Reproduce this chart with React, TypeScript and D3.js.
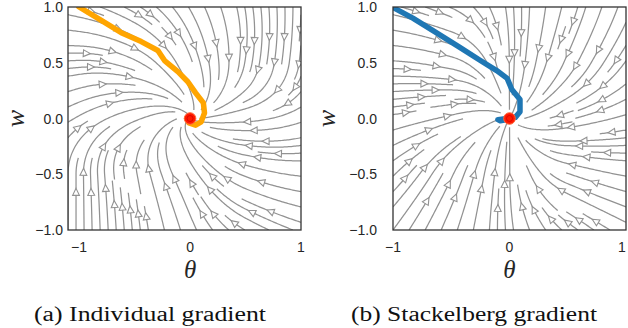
import React, { useMemo } from "react";
import * as d3 from "d3";

// ---------- data ----------
// Direction of the vector field (degrees, counter-clockwise from +theta axis)
// rows: w = 1, 0.5, 0, -0.5, -1 ; columns: theta = -1, -0.5, 0, 0.5, 1 (null = equilibrium)
const fieldNodes = [-1, -0.5, 0, 0.5, 1];
const individualAngles: (number | null)[][] = [
  [-15, -30, -60, -80, -92],
  [3, -25, -70, -100, -97],
  [30, 20, null, 185, 200],
  [90, 100, 120, 160, 175],
  [90, 95, 110, 150, 160],
];
const stackelbergAngles: (number | null)[][] = [
  [-15, -25, -85, -105, -110],
  [-3, -15, -90, -115, -125],
  [10, 15, null, 195, 195],
  [45, 65, 90, 160, 170],
  [55, 70, 95, 140, 150],
];

// Learning trajectories (theta, w)
const individualTheta = [-1.0, -0.8, -0.62, -0.44, -0.29, -0.23, -0.11, -0.02, 0.05, 0.12, 0.13, 0.1, 0.05, -0.01, -0.03, 0.0];
const individualW = [1.0, 0.88, 0.77, 0.69, 0.61, 0.52, 0.42, 0.33, 0.23, 0.14, 0.05, -0.03, -0.06, -0.04, 0.0, 0.0];
const stackelbergTheta = [-0.99, -0.83, -0.66, -0.43, -0.25, -0.11, -0.02, 0.02, 0.09, 0.09, 0.05, -0.02, -0.1, -0.08, 0.02];
const stackelbergW = [0.99, 0.9, 0.79, 0.64, 0.52, 0.43, 0.36, 0.26, 0.17, 0.06, 0.01, 0.0, -0.01, -0.02, 0.0];
const equilibrium = [0, 0];

const yTicks = [1.0, 0.5, 0.0, -0.5, -1.0];
const xTicks = [-1, 0, 1];
const captions = ["(a)  Individual gradient", "(b)  Stackelberg gradient"];
const trajColors = ["#FFA500", "#1f77b4"];

// ---------- streamplot (matplotlib-like) ----------
type Dir = (ax: number, ay: number) => [number, number] | null;

function makeDir(angles: (number | null)[][], xd: number[], yd: number[]): Dir {
  const vec = angles.map((r) =>
    r.map((a) => (a === null ? [0, 0] : [Math.cos((a * Math.PI) / 180), Math.sin((a * Math.PI) / 180)]))
  );
  const n = fieldNodes.length - 1;
  const toIdx = d3.scaleLinear().domain([fieldNodes[0], fieldNodes[n]]).range([0, n]).clamp(true);
  const toRow = d3.scaleLinear().domain([1, -1]).range([0, n]).clamp(true);
  const sx = xd[1] - xd[0];
  const sy = yd[1] - yd[0];
  return (ax, ay) => {
    const x = xd[0] + ax * sx;
    const y = yd[0] + ay * sy;
    const cx = toIdx(x);
    const cy = toRow(y);
    const i0 = Math.min(n - 1, Math.floor(cx));
    const j0 = Math.min(n - 1, Math.floor(cy));
    const fx = cx - i0;
    const fy = cy - j0;
    const a = vec[j0][i0], b = vec[j0][i0 + 1], c = vec[j0 + 1][i0], d = vec[j0 + 1][i0 + 1];
    let u = (1 - fy) * ((1 - fx) * a[0] + fx * b[0]) + fy * ((1 - fx) * c[0] + fx * d[0]);
    let v = (1 - fy) * ((1 - fx) * a[1] + fx * b[1]) + fy * ((1 - fx) * c[1] + fx * d[1]);
    u /= sx;
    v /= sy;
    const m = Math.hypot(u, v);
    if (m < 1e-9) return null;
    return [u / m, v / m];
  };
}

function genStarts(nx: number, ny: number) {
  const out: [number, number][] = [];
  let xfirst = 0, yfirst = 1, xlast = nx - 1, ylast = ny - 1;
  let x = 0, y = 0;
  let dir = "right";
  for (let i = 0; i < nx * ny; i++) {
    out.push([x, y]);
    if (dir === "right") {
      x += 1;
      if (x >= xlast) { xlast -= 1; dir = "up"; }
    } else if (dir === "up") {
      y += 1;
      if (y >= ylast) { ylast -= 1; dir = "left"; }
    } else if (dir === "left") {
      x -= 1;
      if (x <= xfirst) { xfirst += 1; dir = "down"; }
    } else {
      y -= 1;
      if (y <= yfirst) { yfirst += 1; dir = "right"; }
    }
  }
  return out;
}

function streamplot(dirFn: Dir, density = 1) {
  const N = Math.round(30 * density);
  const mask: number[][] = Array.from({ length: N }, () => new Array(N).fill(0));
  const ds = 0.006;
  const maxlength = 4.0;
  const minlength = 0.1;
  const lines: [number, number][][] = [];

  const integrate = (x0: number, y0: number, sign: number, cells: [number, number][]) => {
    let x = x0, y = y0, s = 0;
    let cx = Math.round(x0 * (N - 1)), cy = Math.round(y0 * (N - 1));
    const pts: [number, number][] = [[x, y]];
    let sameCell = 0;
    let prev: [number, number] | null = null;
    while (s < maxlength) {
      const k1 = dirFn(x, y);
      if (!k1) break;
      const xm = x + sign * k1[0] * ds * 0.5, ym = y + sign * k1[1] * ds * 0.5;
      const k2 = xm >= 0 && xm <= 1 && ym >= 0 && ym <= 1 ? dirFn(xm, ym) : k1;
      if (!k2) break;
      if (prev && prev[0] * k2[0] + prev[1] * k2[1] < 0.2) break;
      prev = k2;
      let nx = x + sign * k2[0] * ds, ny = y + sign * k2[1] * ds;
      let out = false;
      if (nx < 0 || nx > 1 || ny < 0 || ny > 1) {
        let t = 1;
        const dx = nx - x, dy = ny - y;
        if (nx < 0) t = Math.min(t, -x / dx);
        if (nx > 1) t = Math.min(t, (1 - x) / dx);
        if (ny < 0) t = Math.min(t, -y / dy);
        if (ny > 1) t = Math.min(t, (1 - y) / dy);
        nx = x + dx * t;
        ny = y + dy * t;
        out = true;
      }
      const ncx = Math.round(nx * (N - 1)), ncy = Math.round(ny * (N - 1));
      if (ncx !== cx || ncy !== cy) {
        if (mask[ncy][ncx]) break;
        mask[ncy][ncx] = 1;
        cells.push([ncx, ncy]);
        cx = ncx;
        cy = ncy;
        sameCell = 0;
      } else {
        sameCell++;
        if (sameCell > 40) break;
      }
      s += Math.hypot(nx - x, ny - y);
      x = nx;
      y = ny;
      pts.push([x, y]);
      if (out) break;
    }
    return { pts, s };
  };

  for (const [xm, ym] of genStarts(N, N)) {
    if (mask[ym][xm]) continue;
    const x0 = xm / (N - 1), y0 = ym / (N - 1);
    const cells: [number, number][] = [[xm, ym]];
    mask[ym][xm] = 1;
    const b = integrate(x0, y0, -1, cells);
    const f = integrate(x0, y0, 1, cells);
    const total = b.s + f.s;
    if (total > minlength) {
      lines.push([...b.pts.slice().reverse(), ...f.pts.slice(1)]);
    } else {
      for (const [a, c] of cells) mask[c][a] = 0;
    }
  }
  return lines;
}

// ---------- layout ----------
const panelsCfg = [
  { x0: 68, x1: 301, xd: [-1.1, 1.0], angles: individualAngles, tTheta: individualTheta, tW: individualW, tickGap: 5, wLabelX: 17, caption: captions[0], capX: 34, capW: 232 },
  { x0: 393, x1: 626, xd: [-1.0, 1.0], angles: stackelbergAngles, tTheta: stackelbergTheta, tW: stackelbergW, tickGap: 16, wLabelX: 328, caption: captions[1], capX: 351, capW: 246 },
];
const yTop = 7, yBot = 230;

export default function App() {
  const panels = useMemo(
    () =>
      panelsCfg.map((p, i) => {
        const xs = d3.scaleLinear().domain(p.xd).range([p.x0, p.x1]);
        const ys = d3.scaleLinear().domain([-1, 1]).range([yBot, yTop]);
        const dirFn = makeDir(p.angles, p.xd, [-1, 1]);
        const raw = streamplot(dirFn, 1);
        const ax2data = (pt: [number, number]): [number, number] => [
          p.xd[0] + pt[0] * (p.xd[1] - p.xd[0]),
          -1 + pt[1] * 2,
        ];
        const lines = raw.map((l) => l.map(ax2data));
        const arrows = lines.map((l) => {
          const cum: number[] = [0];
          for (let k = 1; k < l.length; k++) {
            cum.push(cum[k - 1] + Math.hypot(xs(l[k][0]) - xs(l[k - 1][0]), ys(l[k][1]) - ys(l[k - 1][1])));
          }
          const half = cum[cum.length - 1] / 2;
          let n = d3.bisectLeft(cum, half);
          n = Math.min(Math.max(n, 0), l.length - 2);
          const px = xs(l[n][0]), py = ys(l[n][1]);
          const qx = xs(l[n + 1][0]), qy = ys(l[n + 1][1]);
          const ang = Math.atan2(qy - py, qx - px);
          return { x: (px + qx) / 2, y: (py + qy) / 2, ang };
        });
        return { p, xs, ys, lines, arrows, i };
      }),
    []
  );

  const lineGen = (xs: any, ys: any) =>
    d3
      .line<[number, number]>()
      .x((d) => xs(d[0]))
      .y((d) => ys(d[1]));

  return (
    <svg
      width={628}
      height={328}
      style={{ position: "absolute", left: 0, top: 0, background: "#fff" }}
      fontFamily="'Liberation Sans', Arial, sans-serif"
    >
      <defs>
        {panels.map(({ p, i }) => (
          <clipPath id={`clip${i}`} key={i}>
            <rect x={p.x0} y={yTop} width={p.x1 - p.x0} height={yBot - yTop} />
          </clipPath>
        ))}
      </defs>
      {panels.map(({ p, xs, ys, lines, arrows, i }) => {
        const lg = lineGen(xs, ys);
        const traj: [number, number][] = p.tTheta.map((t, k) => [t, p.tW[k]]);
        return (
          <g key={i}>
            <g clipPath={`url(#clip${i})`}>
              {lines.map((l, k) => (
                <path key={k} d={lg(l) || ""} fill="none" stroke="#929292" strokeWidth={1.25} />
              ))}
              {arrows.map((a, k) => {
                const L = 7, Wd = 3.4;
                const c = Math.cos(a.ang), s = Math.sin(a.ang);
                const tipX = a.x + c * L * 0.5, tipY = a.y + s * L * 0.5;
                const bx = a.x - c * L * 0.5, by = a.y - s * L * 0.5;
                const pts = [
                  [tipX, tipY],
                  [bx - s * Wd, by + c * Wd],
                  [bx + s * Wd, by - c * Wd],
                ];
                return (
                  <polygon
                    key={k}
                    points={pts.map((q) => q.join(",")).join(" ")}
                    fill="#ffffff"
                    stroke="#929292"
                    strokeWidth={1.1}
                    strokeLinejoin="miter"
                  />
                );
              })}
              <path
                d={lg(traj) || ""}
                fill="none"
                stroke={trajColors[i]}
                strokeWidth={5.5}
                strokeLinejoin="round"
                strokeLinecap="round"
              />
              <circle cx={xs(equilibrium[0])} cy={ys(equilibrium[1])} r={5.8} fill="#ff1a00" stroke="#ff6a3d" strokeWidth={1} />
              <circle cx={xs(equilibrium[0])} cy={ys(equilibrium[1])} r={3} fill="none" stroke="#d00000" strokeWidth={0.8} />
            </g>
            <rect x={p.x0} y={yTop} width={p.x1 - p.x0} height={yBot - yTop} fill="none" stroke="#333333" strokeWidth={1.3} />
            {yTicks.map((t) => (
              <text key={t} x={p.x0 - p.tickGap} y={ys(t)} textAnchor="end" dominantBaseline="central" fontSize={14} fill="#262626">
                {t < 0 ? "\u2212" + Math.abs(t).toFixed(1) : t.toFixed(1)}
              </text>
            ))}
            {xTicks.map((t) => (
              <text key={t} x={Math.min(xs(t), 622)} y={247} textAnchor="middle" dominantBaseline="central" fontSize={14} fill="#262626">
                {t < 0 ? "\u2212" + Math.abs(t) : String(t)}
              </text>
            ))}
            <text x={xs(0)} y={278} textAnchor="middle" fontFamily="'Liberation Serif', serif" fontStyle="italic" fontSize={25} fill="#262626">
              θ
            </text>
            <text
              transform={`translate(${p.wLabelX + 7},${ys(0)}) rotate(-90)`}
              textAnchor="middle"
              fontFamily="'Liberation Serif', serif"
              fontStyle="italic"
              fontSize={26}
              fill="#262626"
            >
              w
            </text>
            <text
              x={p.capX}
              y={321}
              fontFamily="'Liberation Serif', serif"
              fontSize={20}
              fill="#111"
              textLength={p.capW}
              lengthAdjust="spacingAndGlyphs"
            >
              {p.caption}
            </text>
          </g>
        );
      })}
    </svg>
  );
}
